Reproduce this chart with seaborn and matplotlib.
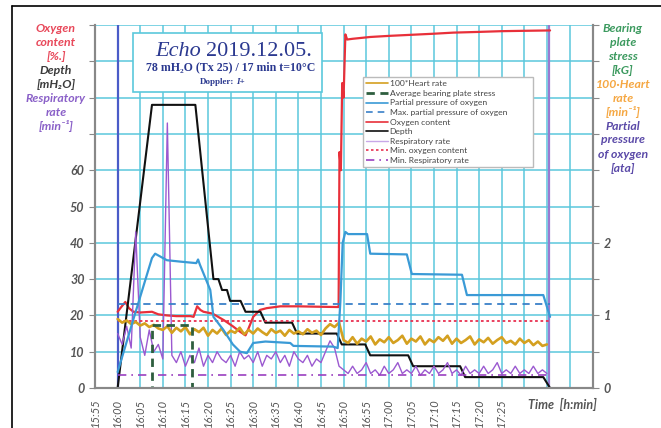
import matplotlib
matplotlib.use("Agg")
import matplotlib.pyplot as plt
import seaborn as sns
from matplotlib.lines import Line2D
from matplotlib.patches import Rectangle
from matplotlib.ticker import FixedLocator, FuncFormatter

# time axis: minutes after 16:00
depth_t = [0, 7.6, 17.2, 21.2, 22.3, 23.1, 24.2, 24.9, 27.2, 28.3, 31.6, 32.7, 38.6, 39.7,
           48.5, 49.6, 54.8, 55.9, 64.3, 65.4, 75.8, 76.9, 94.2, 95.7]
depth = [0, 78, 78, 30, 30, 27, 27, 24, 24, 21, 21, 18, 18, 15,
         15, 12, 12, 9, 9, 6, 6, 3, 3, 0]

o2_t = [0, 0.6, 1.7, 2.5, 3.5, 5, 7.6, 9, 10.9, 13, 16.1, 16.8, 17.6, 18.3, 19, 21, 23.5,
        25.5, 27.1, 28.3, 29, 30, 31.5, 33, 36, 40, 44, 48.9, 49.1, 49.4, 49.7, 50, 50.4,
        50.8, 52, 55.9, 60, 65, 70, 74.3, 80, 85, 90, 95.7]
o2_content = [21, 22, 23.7, 22, 21, 20.8, 21, 20.3, 20, 19.8, 19.8, 19.6, 22.5, 21.5, 21,
              20.5, 18.7, 17, 15.5, 14.5, 16.5, 19.6, 21.5, 22, 22.5, 22.5, 22.4, 22.3, 65,
              60, 84, 80, 97.4, 96, 96.2, 96.7, 97, 97.3, 97.6, 97.9, 98.1, 98.3, 98.4, 98.5]

ppo2_t = [0, 3.5, 7.6, 8.3, 10.9, 14, 17.4, 17.8, 18.2, 20.5, 21.2, 23.4, 25.5, 27.1, 28.6,
          30.0, 32.7, 38.2, 38.9, 47.7, 48.7, 49.3, 49.8, 50.4, 51, 55.2, 55.9, 64.0, 65.1,
          76.2, 77.3, 94.2, 95.7]
ppo2 = [0.22, 0.95, 1.79, 1.85, 1.76, 1.74, 1.72, 1.77, 1.7, 1.35, 0.98, 0.8, 0.6, 0.5, 0.48,
        0.62, 0.64, 0.62, 0.58, 0.57, 0.55, 1.2, 2.0, 2.15, 2.12, 2.12, 1.85, 1.84, 1.57,
        1.56, 1.28, 1.28, 0.98]

plate_t = [0, 7.6, 7.6, 16.5, 16.5, 95.7]
plate_stress = [0, 0, 0.87, 0.87, 0, 0]

# one reading per minute, 16:00 .. 17:35
minute_t = list(range(96))
heart_rate = [95, 90, 93, 88, 91, 86, 89, 84, 87, 82,
              80, 85, 76, 83, 78, 84, 74, 81, 77, 83,
              72, 80, 75, 82, 73, 79, 76, 83, 74, 80,
              75, 82, 77, 73, 81, 76, 79, 72, 80, 75,
              78, 74, 81, 76, 79, 73, 82, 88, 84, 90,
              66, 62, 70, 61, 68, 64, 71, 60, 67, 63,
              70, 62, 66, 72, 61, 68, 64, 71, 60, 67,
              63, 70, 65, 72, 61, 68, 62, 66, 71, 60,
              67, 63, 69, 61, 66, 70, 62, 65, 60, 68,
              62, 66, 59, 64, 58, 60]
resp_rate = [15, 12, 17, 11, 43, 14, 9, 16, 10, 12,
             8, 73, 9, 7, 10, 6, 9, 7, 11, 6,
             9, 7, 10, 8, 7, 9, 6, 10, 8, 9,
             7, 10, 6, 9, 8, 10, 7, 9, 6, 10,
             8, 7, 9, 6, 8, 7, 10, 13, 11, 6,
             5, 4, 6, 4, 5, 7, 4, 5, 3.5, 6,
             4, 5, 7, 4, 5, 4, 6, 3.5, 5, 4,
             6, 4, 5, 7, 4, 5, 3.5, 6, 4, 5,
             4, 6, 4, 5, 7, 4, 5, 4, 6, 4,
             5, 4, 6, 4, 5, 4]

max_ppo2 = 1.16
min_o2 = 18.5
min_resp = 3.7
t_end = 95.7

left_label = [("Oxygen", "#e8485a"), ("content", "#e8485a"), ("[%.]", "#e8485a"),
              ("Depth", "#3a3a3a"), ("[mH₂O]", "#3a3a3a"),
              ("Respiratory", "#8a60c8"), ("rate", "#8a60c8"), ("[min⁻¹]", "#8a60c8")]
right_label = [("Bearing", "#3c9a5f"), ("plate", "#3c9a5f"), ("stress", "#3c9a5f"), ("[kG]", "#3c9a5f"),
               ("100·Heart", "#f5a742"), ("rate", "#f5a742"), ("[min⁻¹]", "#f5a742"),
               ("Partial", "#5b4aa8"), ("pressure", "#5b4aa8"), ("of oxygen", "#5b4aa8"), ("[ata]", "#5b4aa8")]

sns.set_style("white")
plt.rcParams['font.family'] = ['Lato', 'DejaVu Sans']

W, H = 661, 428
fig = plt.figure(figsize=(6.61, 4.28), dpi=100)
ax = fig.add_axes([95 / W, 1 - 388 / H, (593 - 95) / W, (388 - 25) / H])
ax2 = ax.twinx()

grid_c = "#5bc8dc"
ax.set_xlim(-5.01, 105.2)
ax.set_ylim(0, 100)
ax2.set_ylim(0, 5)
ax.xaxis.set_major_locator(FixedLocator(list(range(-5, 105, 5))))
ax.yaxis.set_major_locator(FixedLocator(list(range(0, 101, 10))))
ax2.yaxis.set_major_locator(FixedLocator([i * 0.5 for i in range(11)]))
ax.grid(True, color=grid_c, lw=1.1)
ax.set_axisbelow(True)


def tlabel(v, pos):
    if v > 85:
        return ""
    m = 16 * 60 + int(round(v))
    return f"{m // 60}:{m % 60:02d}"


ax.xaxis.set_major_formatter(FuncFormatter(tlabel))
ax.yaxis.set_major_formatter(FuncFormatter(lambda v, p: f"{v:.0f}" if v <= 60 else ""))
ax2.yaxis.set_major_formatter(FuncFormatter(lambda v, p: f"{v:.0f}" if v <= 2 and v == int(v) else ""))

for a in (ax, ax2):
    for s in ("left", "right", "bottom"):
        a.spines[s].set_color("#888888")
        a.spines[s].set_linewidth(1.5)
    a.spines["top"].set_visible(False)
    a.tick_params(direction="out", length=4, color="#888888", labelcolor="#555555", labelsize=9)
    for lab in a.get_yticklabels():
        lab.set_fontstyle("italic")
        lab.set_fontweight("bold")
ax.tick_params(axis="x", labelsize=8, labelrotation=90, labelcolor="#555555")
for lab in ax.get_xticklabels():
    lab.set_fontstyle("italic")

# start / end markers
ax.axvline(0, color="#4a5cc8", lw=1.6)
ax.axvline(t_end - 0.2, color="#9a7ad0", lw=1.6)

# left axis series
sns.lineplot(x=o2_t, y=o2_content, ax=ax, color="#e8303a", lw=1.6, sort=False, estimator=None)
sns.lineplot(x=depth_t, y=depth, ax=ax, color="#111111", lw=1.5, sort=False, estimator=None)
sns.lineplot(x=minute_t, y=resp_rate, ax=ax, color="#9b59d0", lw=1.0, sort=False, estimator=None)
ax.plot([0, t_end], [min_o2, min_o2], color="#e83050", lw=1.3, ls=(0, (1.5, 1.5)))
ax.plot([0, t_end], [min_resp, min_resp], color="#9a40c0", lw=1.2, ls=(0, (5, 3, 1, 3)))

# right axis series
sns.lineplot(x=minute_t, y=[h / 100 for h in heart_rate], ax=ax2, color="#d4a020", lw=1.9,
             sort=False, estimator=None)
sns.lineplot(x=ppo2_t, y=ppo2, ax=ax2, color="#3a9ad6", lw=1.6, sort=False, estimator=None)
ax2.plot([0, t_end], [max_ppo2, max_ppo2], color="#3a80c8", lw=1.3, ls=(0, (4, 3)))
sns.lineplot(x=plate_t, y=plate_stress, ax=ax2, color="#2e5e3e", lw=2, sort=False,
             estimator=None, dashes=False)
ax2.lines[-1].set_linestyle((0, (3, 2)))
ax.set_xlabel("")
ax.set_ylabel("")
ax2.set_ylabel("")

handles = [
    Line2D([], [], color="#d4a020", lw=1.2),
    Line2D([], [], color="#2e5e3e", lw=2, ls=(0, (3, 2))),
    Line2D([], [], color="#3a9ad6", lw=1.2),
    Line2D([], [], color="#3a80c8", lw=1.2, ls=(0, (4, 3))),
    Line2D([], [], color="#e8303a", lw=1.2),
    Line2D([], [], color="#111111", lw=1.2),
    Line2D([], [], color="#c8a8e8", lw=1.0),
    Line2D([], [], color="#e83050", lw=1.2, ls=(0, (1.5, 1.5))),
    Line2D([], [], color="#9a40c0", lw=1.2, ls=(0, (5, 3, 1, 3))),
]
labels = ["100*Heart rate", "Average bearing plate stress", "Partial pressure of oxygen",
          "Max. partial pressure of oxygen", "Oxygen content", "Depth", "Respiratory rate",
          "Min. oxygen content", "Min. Respiratory rate"]
leg = fig.legend(handles, labels, loc="upper left",
                 bbox_to_anchor=(363 / W, 1 - 165 / H, (533 - 363) / W, 88 / H),
                 mode="expand", fontsize=6.1, handlelength=2.6, handletextpad=0.15,
                 labelspacing=0.3, borderpad=0.4, fancybox=False, edgecolor="#bbbbbb",
                 framealpha=1, borderaxespad=0)
for t in leg.get_texts():
    t.set_color("#444444")
leg.set_zorder(5)

# title box
fig.add_artist(Rectangle((133 / W, 1 - 92 / H), (322 - 133) / W, (92 - 33) / H,
                         transform=fig.transFigure, facecolor="white", edgecolor=grid_c,
                         lw=1.2, zorder=4))
serif = ["Liberation Serif", "DejaVu Serif"]
tc = "#2b3990"
fig.text(201 / W, 1 - 51 / H, "Echo", ha="right", va="center", fontsize=16, style="italic",
         color=tc, family=serif, zorder=6)
fig.text(206 / W, 1 - 51 / H, "2019.12.05.", ha="left", va="center", fontsize=16,
         color=tc, family=serif, zorder=6)
fig.text(231 / W, 1 - 67 / H, "78 mH₂O (Tx 25) / 17 min t=10°C", ha="center", va="center",
         fontsize=8.6, weight="bold", color=tc, family=serif, zorder=6)
fig.text(234 / W, 1 - 82 / H, "Doppler:", ha="right", va="center", fontsize=6.5,
         weight="bold", color=tc, family=serif, zorder=6)
fig.text(236 / W, 1 - 82 / H, "I+", ha="left", va="center", fontsize=6.5,
         weight="bold", style="italic", color=tc, family=serif, zorder=6)

# axis captions
for i, (s, c) in enumerate(left_label):
    fig.text(56 / W, 1 - (28 + 14 * i) / H, s, ha="center", va="center", fontsize=8.8,
             style="italic", weight="bold", color=c)
for i, (s, c) in enumerate(right_label):
    fig.text(623 / W, 1 - (28 + 14 * i) / H, s, ha="center", va="center", fontsize=8.8,
             style="italic", weight="bold", color=c)
fig.text(528 / W, 1 - 404 / H, "Time  [h:min]", ha="left", va="center", fontsize=9,
         style="italic", weight="bold", color="#555555")

# outer frame
fig.add_artist(Line2D([12 / W, 1], [1 - 6 / H, 1 - 6 / H], color="black", lw=1.2,
                      transform=fig.transFigure))
fig.add_artist(Line2D([12 / W, 12 / W], [0, 1 - 6 / H], color="black", lw=1.2,
                      transform=fig.transFigure))

fig.savefig("out.png", dpi=100)
